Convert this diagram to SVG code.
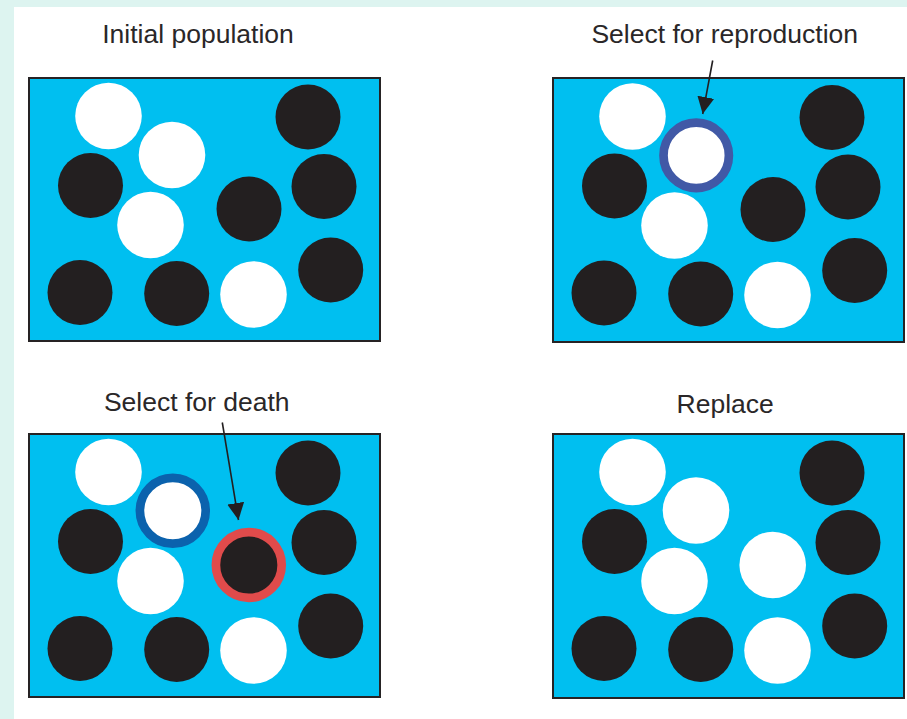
<svg xmlns="http://www.w3.org/2000/svg" width="907" height="719" viewBox="0 0 907 719">
  <style>
    .frame { fill: #00bff0; stroke: #262324; stroke-width: 2; }
    .w { fill: #ffffff; }
    .b { fill: #231f20; }
    .ring { fill: none; stroke-width: 8.7; }
    .label { font-family: "Liberation Sans", Arial, sans-serif; font-size: 26.5px; fill: #2a2728; text-anchor: middle; }
    .conn { stroke: #231f20; stroke-width: 1.6; fill: none; }
  </style>
  <defs>
    <marker id="head" viewBox="0 0 10 10" refX="10" refY="5" markerWidth="17" markerHeight="17" markerUnits="userSpaceOnUse" orient="auto">
      <path d="M0,0 L10,5 L0,10 z" fill="#231f20"/>
    </marker>
    <!-- the population of twelve individuals, shared by every panel -->
    <g id="pop-top">
      <circle class="w" cx="108.5" cy="116" r="33.3"/>
      <circle class="b" cx="308" cy="117" r="32.5"/>
      <circle class="b" cx="90.5" cy="185.5" r="32.5"/>
      <circle class="w" cx="150.5" cy="225" r="33.3"/>
      <circle class="b" cx="324" cy="186.5" r="32.5"/>
      <circle class="b" cx="80" cy="292.5" r="32.5"/>
      <circle class="b" cx="176.7" cy="293.5" r="32.5"/>
      <circle class="w" cx="253.5" cy="294.5" r="33.3"/>
      <circle class="b" cx="330.7" cy="270" r="32.5"/>
    </g>
  </defs>

  <!-- page background -->
  <rect x="0" y="0" width="907" height="719" fill="#ffffff"/>
  <rect x="0" y="0" width="907" height="7" fill="#ddf4f0"/>
  <rect x="0" y="0" width="14" height="719" fill="#ddf4f0"/>

  <!-- panel: initial population -->
  <g id="initial-population">
    <text class="label" x="198" y="42.5">Initial population</text>
    <rect class="frame" x="29" y="78" width="351" height="263"/>
    <use href="#pop-top"/>
    <circle class="w" cx="172" cy="155" r="33.3"/>
    <circle class="b" cx="249" cy="209" r="32.5"/>
  </g>

  <!-- panel: select for reproduction -->
  <g id="select-reproduction">
    <text class="label" x="724.7" y="42.5">Select for reproduction</text>
    <rect class="frame" x="553" y="78" width="351" height="264"/>
    <use href="#pop-top" transform="translate(524 0.5)"/>
    <circle class="w" cx="696.2" cy="155.4" r="33.3"/>
    <circle class="ring" cx="696.2" cy="155.4" r="32.7" stroke="#4159a6"/>
    <circle class="b" cx="773" cy="209.5" r="32.5"/>
  </g>

  <!-- panel: select for death -->
  <g id="select-death">
    <text class="label" x="196.7" y="410.7">Select for death</text>
    <rect class="frame" x="29" y="434" width="351" height="263"/>
    <use href="#pop-top" transform="translate(0 356)"/>
    <circle class="w" cx="172.8" cy="510.8" r="33.3"/>
    <circle class="ring" cx="172.8" cy="510.8" r="32.9" stroke="#0b62ad"/>
    <circle class="b" cx="248.8" cy="565" r="32.5"/>
    <circle class="ring" cx="248.8" cy="565" r="32.9" stroke="#e04b4b"/>
  </g>

  <!-- panel: replace -->
  <g id="replace">
    <text class="label" x="725.2" y="413.3">Replace</text>
    <rect class="frame" x="553" y="434" width="351" height="264"/>
    <use href="#pop-top" transform="translate(524 356)"/>
    <circle class="w" cx="696" cy="510.5" r="33.3"/>
    <circle class="w" cx="772.7" cy="565" r="33.3"/>
  </g>

  <!-- pointer arrows from labels to chosen individuals -->
  <g id="connectors">
    <line class="conn" x1="712.7" y1="60.5" x2="702.7" y2="114" marker-end="url(#head)"/>
    <line class="conn" x1="222.3" y1="422.5" x2="238.5" y2="520" marker-end="url(#head)"/>
  </g>
</svg>
